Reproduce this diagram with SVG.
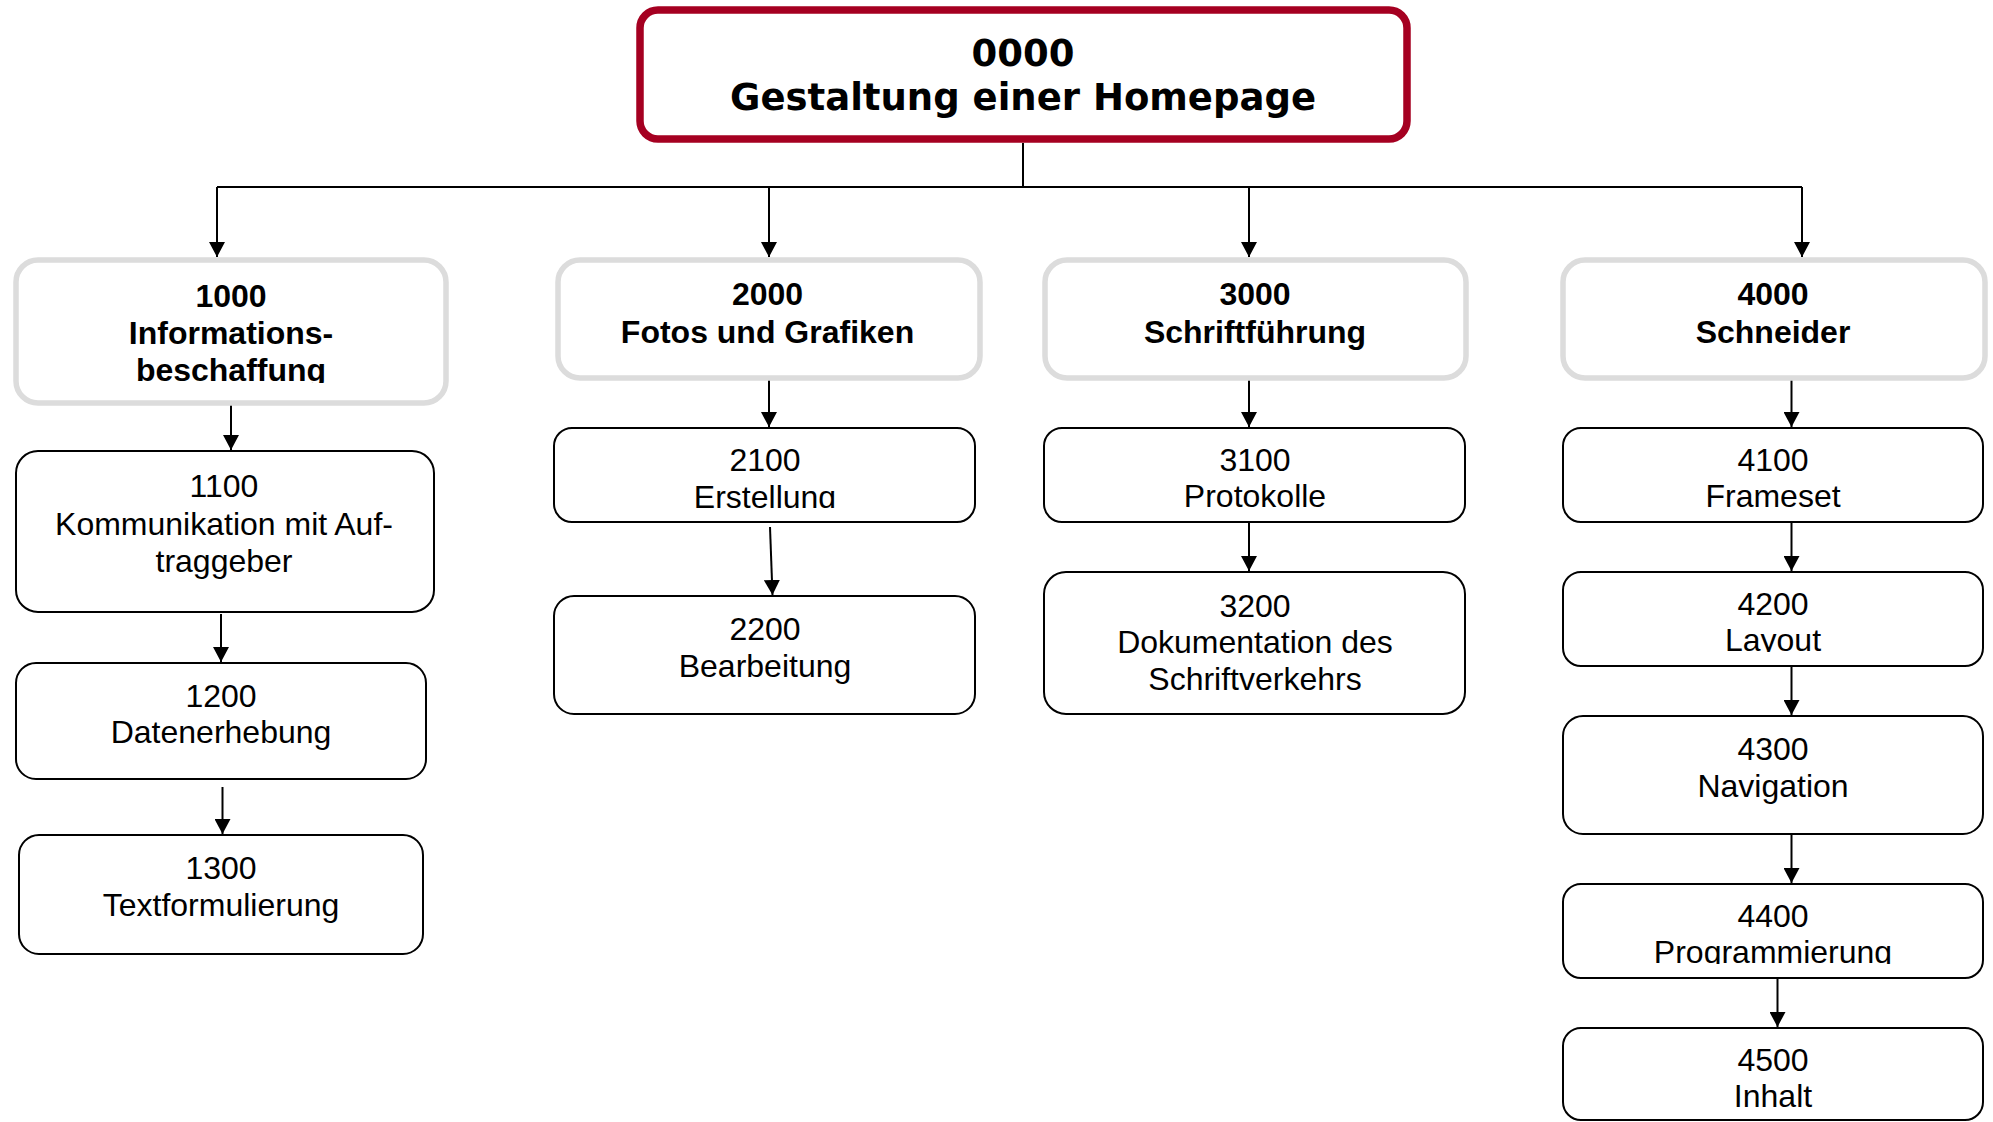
<svg xmlns="http://www.w3.org/2000/svg" width="1993" height="1122" viewBox="0 0 1993 1122">
<style>
.root{fill:#fff;stroke:#A50021;stroke-width:7.5}
.l1{fill:#fff;stroke:#DCDCDC;stroke-width:5.5}
.l2{fill:#fff;stroke:#000;stroke-width:2}
.tr{font-family:"DejaVu Sans",sans-serif;font-weight:bold;font-size:37px;text-anchor:middle;fill:#000}
.tb{font-family:"Liberation Sans",Arial,sans-serif;font-weight:bold;font-size:32px;text-anchor:middle;fill:#000}
.tn{font-family:"Liberation Sans",Arial,sans-serif;font-size:32px;text-anchor:middle;fill:#000}
.c{fill:none;stroke:#000;stroke-width:2}
</style>
<defs>
<marker id="ah" viewBox="0 0 15 16" refX="15" refY="8" markerWidth="15" markerHeight="16" markerUnits="userSpaceOnUse" orient="auto"><path d="M0,0 L15,8 L0,16 Z" fill="#000"/></marker>
<clipPath id="c1000"><rect x="0" y="250" width="460" height="133"/></clipPath>
<clipPath id="c2100"><rect x="540" y="420" width="460" height="88"/></clipPath>
<clipPath id="c4200"><rect x="1550" y="560" width="443" height="92"/></clipPath>
<clipPath id="c4400"><rect x="1550" y="870" width="443" height="94"/></clipPath>
</defs>
<rect width="1993" height="1122" fill="#fff"/>
<g id="connectors">
<path class="c" d="M1023,143 V187"/>
<path class="c" d="M217,187 H1802"/>
<path class="c" d="M217,187 V257" marker-end="url(#ah)"/>
<path class="c" d="M769,187 V257" marker-end="url(#ah)"/>
<path class="c" d="M1249,187 V257" marker-end="url(#ah)"/>
<path class="c" d="M1802,187 V257" marker-end="url(#ah)"/>
<path class="c" d="M231,403 V450" marker-end="url(#ah)"/>
<path class="c" d="M221,614 V662" marker-end="url(#ah)"/>
<path class="c" d="M222.5,787 V834" marker-end="url(#ah)"/>
<path class="c" d="M769,380 V427" marker-end="url(#ah)"/>
<path class="c" d="M770,527 L772.5,595" marker-end="url(#ah)"/>
<path class="c" d="M1249,380 V427" marker-end="url(#ah)"/>
<path class="c" d="M1249,523 V571" marker-end="url(#ah)"/>
<path class="c" d="M1791.5,380 V427" marker-end="url(#ah)"/>
<path class="c" d="M1791.5,523 V571" marker-end="url(#ah)"/>
<path class="c" d="M1791.5,667 V715" marker-end="url(#ah)"/>
<path class="c" d="M1791.5,835 V883" marker-end="url(#ah)"/>
<path class="c" d="M1777.5,979 V1027" marker-end="url(#ah)"/>
</g>
<g id="n0000">
<rect class="root" x="640" y="10" width="767" height="129" rx="18"/>
<text class="tr" x="1023" y="66">0000</text>
<text class="tr" x="1023" y="110">Gestaltung einer Homepage</text>
</g>
<g id="n1000">
<rect class="l1" x="16" y="260" width="430" height="143" rx="22"/>
<g clip-path="url(#c1000)">
<text class="tb" x="231" y="307">1000</text>
<text class="tb" x="231" y="344">Informations-</text>
<text class="tb" x="231" y="381">beschaffung</text>
</g>
</g>
<g id="n1100">
<rect class="l2" x="16" y="451" width="418" height="161" rx="22"/>
<text class="tn" x="224" y="497">1100</text>
<text class="tn" x="224" y="535">Kommunikation mit Auf-</text>
<text class="tn" x="224" y="572">traggeber</text>
</g>
<g id="n1200">
<rect class="l2" x="16" y="663" width="410" height="116" rx="20"/>
<text class="tn" x="221" y="707">1200</text>
<text class="tn" x="221" y="743">Datenerhebung</text>
</g>
<g id="n1300">
<rect class="l2" x="19" y="835" width="404" height="119" rx="20"/>
<text class="tn" x="221" y="879">1300</text>
<text class="tn" x="221" y="916">Textformulierung</text>
</g>
<g id="n2000">
<rect class="l1" x="558" y="260" width="422" height="118" rx="22"/>
<text class="tb" x="767.5" y="305">2000</text>
<text class="tb" x="767.5" y="343">Fotos und Grafiken</text>
</g>
<g id="n2100">
<rect class="l2" x="554" y="428" width="421" height="94" rx="18"/>
<g clip-path="url(#c2100)">
<text class="tn" x="765" y="471">2100</text>
<text class="tn" x="765" y="508">Erstellung</text>
</g>
</g>
<g id="n2200">
<rect class="l2" x="554" y="596" width="421" height="118" rx="20"/>
<text class="tn" x="765" y="640">2200</text>
<text class="tn" x="765" y="677">Bearbeitung</text>
</g>
<g id="n3000">
<rect class="l1" x="1045" y="260" width="421" height="118" rx="22"/>
<text class="tb" x="1255" y="305">3000</text>
<text class="tb" x="1255" y="343">Schriftführung</text>
</g>
<g id="n3100">
<rect class="l2" x="1044" y="428" width="421" height="94" rx="18"/>
<text class="tn" x="1255" y="471">3100</text>
<text class="tn" x="1255" y="507">Protokolle</text>
</g>
<g id="n3200">
<rect class="l2" x="1044" y="572" width="421" height="142" rx="22"/>
<text class="tn" x="1255" y="617">3200</text>
<text class="tn" x="1255" y="653">Dokumentation des</text>
<text class="tn" x="1255" y="690">Schriftverkehrs</text>
</g>
<g id="n4000">
<rect class="l1" x="1563" y="260" width="422" height="118" rx="22"/>
<text class="tb" x="1773" y="305">4000</text>
<text class="tb" x="1773" y="343">Schneider</text>
</g>
<g id="n4100">
<rect class="l2" x="1563" y="428" width="420" height="94" rx="18"/>
<text class="tn" x="1773" y="471">4100</text>
<text class="tn" x="1773" y="507">Frameset</text>
</g>
<g id="n4200">
<rect class="l2" x="1563" y="572" width="420" height="94" rx="18"/>
<g clip-path="url(#c4200)">
<text class="tn" x="1773" y="615">4200</text>
<text class="tn" x="1773" y="651">Layout</text>
</g>
</g>
<g id="n4300">
<rect class="l2" x="1563" y="716" width="420" height="118" rx="20"/>
<text class="tn" x="1773" y="760">4300</text>
<text class="tn" x="1773" y="797">Navigation</text>
</g>
<g id="n4400">
<rect class="l2" x="1563" y="884" width="420" height="94" rx="18"/>
<g clip-path="url(#c4400)">
<text class="tn" x="1773" y="927">4400</text>
<text class="tn" x="1773" y="963">Programmierung</text>
</g>
</g>
<g id="n4500">
<rect class="l2" x="1563" y="1028" width="420" height="92" rx="18"/>
<text class="tn" x="1773" y="1071">4500</text>
<text class="tn" x="1773" y="1107">Inhalt</text>
</g>
</svg>
